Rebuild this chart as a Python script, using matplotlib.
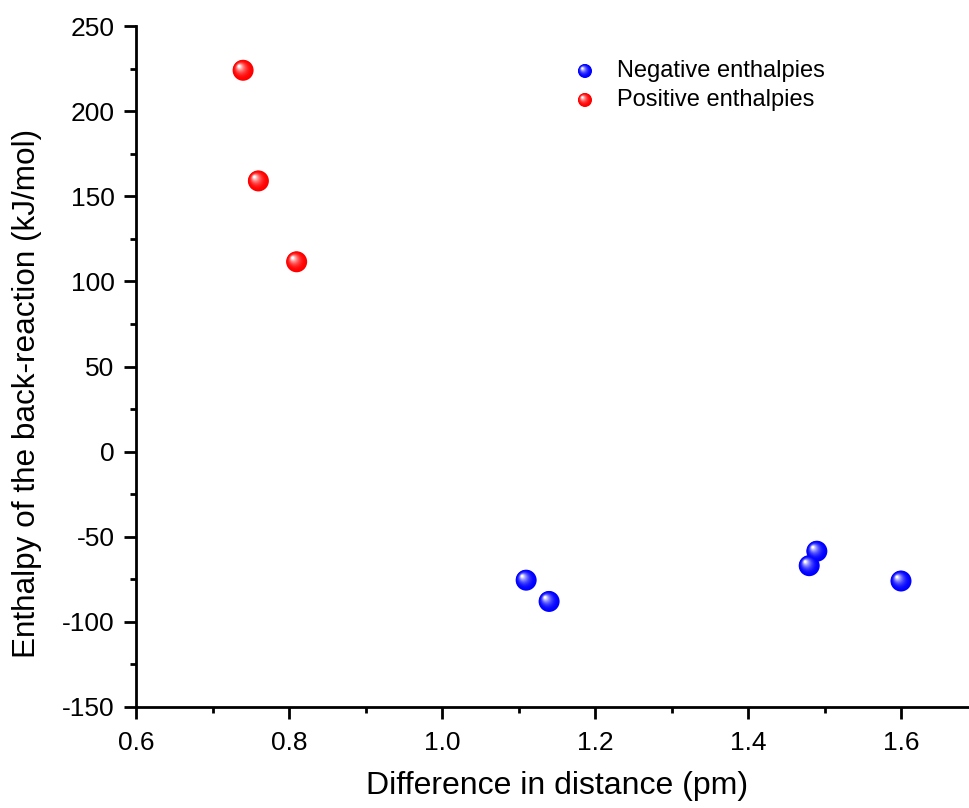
import numpy as np
import matplotlib
matplotlib.use("Agg")
import matplotlib.pyplot as plt
from matplotlib.transforms import ScaledTranslation
from matplotlib.colors import to_rgb
from matplotlib.ticker import MultipleLocator, FuncFormatter

plt.rcParams['font.family'] = ['Liberation Sans', 'DejaVu Sans']

# Data
neg_x = [1.11, 1.14, 1.48, 1.49, 1.60]
neg_y = [-75.5, -88, -67, -58.5, -76]
pos_x = [0.74, 0.76, 0.81]
pos_y = [224, 159, 111.5]
series_labels = ["Negative enthalpies", "Positive enthalpies"]
series_colors = ["#0000ff", "#ff0000"]

x_label = "Difference in distance (pm)"
y_label = "Enthalpy of the back-reaction (kJ/mol)"

fig = plt.figure(figsize=(9.69, 8.08), dpi=100)
# plot frame runs slightly past the right edge of the canvas
ax = fig.add_axes([136/969, 101/808, 841.5/969, 681/808])


def sphere(ax, xs, ys, color, diam_px, transform, z=3):
    """Draw shaded spherical markers of the given pixel diameter."""
    base = np.array(to_rgb(color))
    white = np.ones(3)
    px = 72.0 / fig.dpi
    r_pt = diam_px / 2 * px
    n = 14
    hx, hy = -0.38 * r_pt, 0.38 * r_pt
    for k in range(n):
        t = k / (n - 1)
        rad = r_pt * (1 - 0.88 * t)
        c = base + (white - base) * (t ** 2.2)
        tr = transform + ScaledTranslation(hx * t / 72, hy * t / 72, fig.dpi_scale_trans)
        ax.scatter(xs, ys, s=(2 * rad) ** 2, color=c, edgecolors='none',
                   transform=tr, zorder=z + k * 0.01, clip_on=False)


sphere(ax, neg_x, neg_y, series_colors[0], 21, ax.transData)
sphere(ax, pos_x, pos_y, series_colors[1], 21, ax.transData)

ax.set_xlim(0.6, 1.7)
ax.set_ylim(-150, 250)

ax.xaxis.set_major_locator(MultipleLocator(0.2))
ax.xaxis.set_minor_locator(MultipleLocator(0.1))
ax.yaxis.set_major_locator(MultipleLocator(50))
ax.yaxis.set_minor_locator(MultipleLocator(25))
ax.xaxis.set_major_formatter(FuncFormatter(lambda v, p: f"{v:.1f}"))
ax.yaxis.set_major_formatter(FuncFormatter(lambda v, p: f"{v:.0f}"))

for s in ['top', 'right']:
    ax.spines[s].set_visible(False)
for s in ['left', 'bottom']:
    ax.spines[s].set_linewidth(2.0)

ax.tick_params(which='major', direction='out', length=8.5, width=2.0, labelsize=19)
ax.tick_params(axis='y', which='major', pad=7)
ax.tick_params(axis='x', which='major', pad=9)
ax.tick_params(which='minor', direction='out', length=4.3, width=2.0)

ax.set_xlabel(x_label, fontsize=23)
ax.set_ylabel(y_label, fontsize=22.7)
ax.xaxis.set_label_coords(0.5, (707 - 771) / 681)
ax.yaxis.set_label_coords((42 - 136) / 841.5, (707 - 393) / 681)

# Legend entries
leg_y = [(707 - 71) / 681, (707 - 100) / 681]
for lab, col, ly in zip(series_labels, series_colors, leg_y):
    sphere(ax, [(585 - 136) / 841.5], [ly], col, 14, ax.transAxes, z=5)
    ax.text((617 - 136) / 841.5, ly, lab, transform=ax.transAxes, fontsize=17,
            va='center', ha='left')

fig.savefig("out.png", dpi=100)
